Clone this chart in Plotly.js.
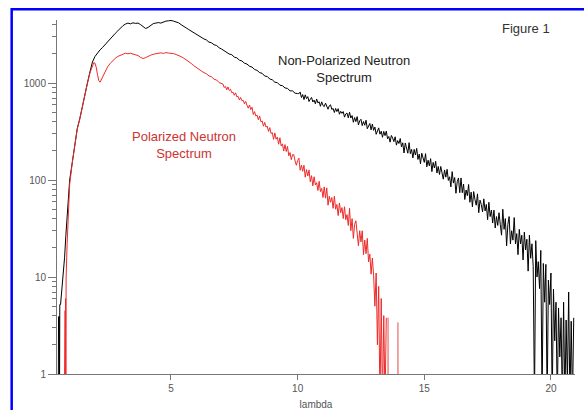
<!DOCTYPE html>
<html>
<head>
<meta charset="utf-8">
<script src="https://cdn.plot.ly/plotly-3.0.1.min.js"></script>
<style>html,body{margin:0;padding:0;background:#fff;}#chart{width:584px;height:410px;}</style>
</head>
<body>
<div id="chart"></div>
<script>
// Non-polarized neutron spectrum (black)
var blackLambda = [0.55,0.56,0.59,0.6,0.61,0.64,0.66,0.7,0.75,0.8,0.85,0.9,0.95,
1.0,1.1,1.2,1.3,1.4,1.5,1.6,1.7,1.8,1.9,
2.0,2.1,2.2,2.3,2.4,2.5,2.6,2.7,2.8,2.9,
3.0,3.1,3.2,3.3,3.4,3.5,3.6,3.7,3.8,3.9,
4.0,4.1,4.2,4.3,4.4,4.5,4.6,4.7,4.8,4.9,
5.0,5.1,5.2,5.3,5.4,5.5,5.6,5.7,5.8,5.9,
6.0,6.1,6.2,6.3,6.4,6.5,6.6,6.7,6.8,6.9,
7.0,7.1,7.2,7.3,7.4,7.5,7.6,7.7,7.8,7.9,
8.0,8.1,8.2,8.3,8.4,8.5,8.6,8.7,8.8,8.9,
9.0,9.1,9.2,9.3,9.4,9.5,9.6,9.7,9.8,9.9,
10.0,10.05,10.1,10.15,10.2,10.25,10.3,10.35,10.4,10.45,10.5,10.55,10.6,10.65,10.7,10.75,10.8,10.85,10.9,10.95,
11.0,11.05,11.1,11.15,11.2,11.25,11.3,11.35,11.4,11.45,11.5,11.55,11.6,11.65,11.7,11.75,11.8,11.85,11.9,11.95,
12.0,12.05,12.1,12.15,12.2,12.25,12.3,12.35,12.4,12.45,12.5,12.55,12.6,12.65,12.7,12.75,12.8,12.85,12.9,12.95,
13.0,13.05,13.1,13.15,13.2,13.25,13.3,13.35,13.4,13.45,13.5,13.55,13.6,13.65,13.7,13.75,13.8,13.85,13.9,13.95,
14.0,14.05,14.1,14.15,14.2,14.25,14.3,14.35,14.4,14.45,14.5,14.55,14.6,14.65,14.7,14.75,14.8,14.85,14.9,14.95,
15.0,15.05,15.1,15.15,15.2,15.25,15.3,15.35,15.4,15.45,15.5,15.55,15.6,15.65,15.7,15.75,15.8,15.85,15.9,15.95,
16.0,16.05,16.1,16.15,16.2,16.25,16.3,16.35,16.4,16.45,16.5,16.55,16.6,16.65,16.7,16.75,16.8,16.85,16.9,16.95,
17.0,17.05,17.1,17.15,17.2,17.25,17.3,17.35,17.4,17.45,17.5,17.55,17.6,17.65,17.7,17.75,17.8,17.85,17.9,17.95,
18.0,18.05,18.1,18.15,18.2,18.25,18.3,18.35,18.4,18.45,18.5,18.55,18.6,18.65,18.7,18.75,18.8,18.85,18.9,18.95,
19.0,19.05,19.1,19.15,19.2,19.25,19.3,19.35,19.4,19.45,19.5,19.55,19.6,19.65,19.7,19.75,19.8,19.85,19.9,19.95,
20.0,20.05,20.1,20.15,20.2,20.25,20.3,20.35,20.4,20.45,20.5,20.55,20.6,20.65,20.7,20.75,20.8,20.85,20.9];
var blackCounts = [0.5,3.9,3.9,0.5,5.2,5.2,6,7,10,16,27,43,68,
100,150,230,340,430,580,780,1000,1300,1650,
1880,2050,2200,2330,2500,2680,2850,3050,3250,3450,
3700,3900,4050,4150,4080,4180,4120,4150,4000,3850,
3650,3750,3950,4100,4150,4200,4150,4280,4350,4380,
4420,4350,4250,4180,4000,3880,3700,3560,3420,3280,
3150,3030,2960,2850,2780,2640,2600,2480,2440,2310,
2240,2150,2090,1990,1960,1850,1820,1720,1690,1600,
1570,1490,1460,1380,1350,1280,1260,1180,1170,1100,
1080,1020,1010,950,940,890,880,830,830,785,
780,
776,808,709,760,675,755,691,724,645,681,
711,638,667,611,685,623,641,576,640,587,
571,620,583,537,583,596,533,548,497,547,
508,544,477,511,487,508,445,480,490,438,
500,436,462,394,441,400,451,369,408,423,
364,401,367,414,338,369,383,329,378,325,
352,296,330,345,297,318,276,317,287,319,
266,281,246,288,272,249,279,229,255,238,
268,220,242,190,241,218,189,243,187,207,
169,207,181,212,163,185,147,189,166,152,
187,137,160,140,166,122,152,133,156,118,
138,114,138,122,102,127,107,129,99,108,
85,122,93,106,73,96,105,74,105,74,
91,63,79,69,90,59,75,53,76,63,
55,72,46,62,56,47,64,48,56,39,
59,42,49,36,49,32,42,34,46,35,
27,50,31,40,21,35,42,22,30,24,
41,22,28,17,31,22,27,15,29,19,
24.5,11.5,27,15.6,22,12.8,0.5,23.7,10,14.4,
7.6,18.8,0.5,13.8,5.5,13.5,0.5,9.3,5.2,11,
0.5,7.5,2.2,5.5,0.5,4.8,1.5,3.8,0.5,5.5,0.5,3.6,0.8,7,0.5,3.5,0.5,3.8];

// Polarized neutron spectrum (red)
var redLambda = [0.79,0.8,0.81,0.82,0.83,0.84,0.85,0.86,0.9,0.95,
1.0,1.1,1.2,1.3,1.4,1.5,1.6,1.7,1.8,1.9,
1.95,2.0,2.05,2.1,2.15,2.2,2.25,
2.3,2.4,2.5,2.6,2.7,2.8,2.9,
3.0,3.1,3.2,3.3,3.4,3.5,3.6,3.7,3.8,3.9,
4.0,4.1,4.2,4.3,4.4,4.5,4.6,4.7,4.8,4.9,
5.0,5.1,5.2,5.3,5.4,5.5,5.6,5.7,5.8,5.9,
6.0,6.1,6.2,6.3,6.4,6.5,6.6,6.7,6.8,6.9,
7.0,7.05,7.1,7.15,7.2,7.25,7.3,7.35,7.4,7.45,7.5,7.55,7.6,7.65,7.7,7.75,7.8,7.85,7.9,7.95,
8.0,8.05,8.1,8.15,8.2,8.25,8.3,8.35,8.4,8.45,8.5,8.55,8.6,8.65,8.7,8.75,8.8,8.85,8.9,8.95,
9.0,9.05,9.1,9.15,9.2,9.25,9.3,9.35,9.4,9.45,9.5,9.55,9.6,9.65,9.7,9.75,9.8,9.85,9.9,9.95,
10.0,10.05,10.1,10.15,10.2,10.25,10.3,10.35,10.4,10.45,10.5,10.55,10.6,10.65,10.7,10.75,10.8,10.85,10.9,10.95,
11.0,11.05,11.1,11.15,11.2,11.25,11.3,11.35,11.4,11.45,11.5,11.55,11.6,11.65,11.7,11.75,11.8,11.85,11.9,11.95,
12.0,12.05,12.1,12.15,12.2,12.25,12.3,12.35,12.4,12.45,12.5,12.55,12.6,12.65,12.7,12.75,12.8,12.85,12.9,12.95,
13.0,13.05,13.1,13.15,13.2,13.25,13.3,13.35,13.4,13.45,13.5];
var redCounts = [0.5,3,0.5,4.5,0.6,6,1,10,22,50,
90,148,228,335,425,575,770,990,1270,1520,
1620,1600,1450,1220,1060,1020,1080,
1180,1330,1470,1590,1700,1800,1880,
1940,1990,2030,2000,2030,1990,1960,1920,1840,1790,
1830,1900,1940,1980,2000,2030,2050,2020,2060,2040,
2030,2010,1970,1930,1870,1810,1740,1660,1590,1510,
1440,1380,1330,1280,1245,1185,1160,1095,1075,1010,
990,
977,899,925,851,912,839,864,794,805,748,
793,721,729,669,710,658,665,611,647,589,
551,594,532,563,473,507,457,467,418,458,
398,406,359,393,352,359,317,347,302,308,
263,306,264,277,234,273,225,236,199,232,
197,222,178,192,162,183,182,157,142,159,
168,126,142,123,142,107,128,110,127,96,
111,87,108,89,94,78,97,76,82,66,
85,65,83,55,68,59,66,51,68,50,
56,43,58,46,52,40,53,39,44,34,
51,30,40,25,35,38,25,21,30,23,
30,17,24,17.4,25,14.3,17.2,10.7,15.7,10.3,
5,11,2,8,0.5,6,0.5,4,0.5,3.8];
// faint isolated channels beyond the red cutoff
var redSpikeLambda = [13.55,13.57,13.59,13.94,13.96,13.98];
var redSpikeCounts = [0.5,3.8,0.5,0.5,3.4,0.5];

var yTickVals = [1,10,100,1000];
var yTickText = ['1','10','100','1000'];
var yMinorVals = [2,3,4,5,6,7,8,9,20,30,40,50,60,70,80,90,200,300,400,500,600,700,800,900,2000,3000,4000];
var xTickVals = [5,10,15,20];
var xTickText = ['5','10','15','20'];

var traces = [
  {x: blackLambda, y: blackCounts, type:'scatter', mode:'lines', line:{color:'#000000', width:1}, hoverinfo:'skip'},
  {x: redSpikeLambda, y: redSpikeCounts, type:'scatter', mode:'lines', line:{color:'rgba(225,70,70,0.55)', width:1}, hoverinfo:'skip'},
  {x: redLambda, y: redCounts, type:'scatter', mode:'lines', line:{color:'#ee2a2a', width:1}, hoverinfo:'skip'}
];

var axisGrey = '#777777';
var layout = {
  width:584, height:410,
  margin:{l:57, r:9, t:20, b:36, pad:0},
  paper_bgcolor:'#ffffff', plot_bgcolor:'#ffffff',
  showlegend:false,
  font:{family:'"Liberation Sans", Arial, sans-serif', size:10, color:'#555555'},
  xaxis:{
    range:[0.5,20.95], tickmode:'array', tickvals:xTickVals, ticktext:xTickText,
    ticks:'outside', ticklen:5, tickwidth:1, tickcolor:axisGrey,
    showline:true, linecolor:axisGrey, linewidth:1,
    showgrid:false, zeroline:false,
    tickfont:{size:10, color:'#555555'},
    title:{text:'lambda', font:{size:10, color:'#555555'}, standoff:8}
  },
  yaxis:{
    type:'log', range:[0,3.65], tickmode:'array', tickvals:yTickVals, ticktext:yTickText,
    ticks:'outside', ticklen:8, tickwidth:1, tickcolor:axisGrey,
    showline:true, linecolor:axisGrey, linewidth:1,
    showgrid:false, zeroline:false,
    tickfont:{size:10, color:'#555555'},
    minor:{tickmode:'array', tickvals:yMinorVals, ticks:'outside', ticklen:4, tickwidth:1, tickcolor:axisGrey, showgrid:false}
  },
  annotations:[
    {xref:'paper', yref:'paper', x:0.9054, y:0.9746, text:'Figure 1', showarrow:false, xanchor:'center', yanchor:'middle', font:{size:13, color:'#333333'}},
    {xref:'paper', yref:'paper', x:0.554, y:0.8605, text:'Non-Polarized Neutron<br>Spectrum', showarrow:false, xanchor:'center', yanchor:'middle', align:'center', font:{size:13, color:'#222222'}},
    {xref:'paper', yref:'paper', x:0.245, y:0.647, text:'Polarized Neutron<br>Spectrum', showarrow:false, xanchor:'center', yanchor:'middle', align:'center', font:{size:13, color:'#cc3333'}}
  ],
  shapes:[
    {type:'rect', xref:'paper', yref:'paper', x0:-0.0875, x1:1.3, y0:-0.3, y1:1.0302, line:{color:'#0000ff', width:2.5}, fillcolor:'rgba(0,0,0,0)', layer:'above'}
  ]
};

Plotly.newPlot('chart', traces, layout, {displayModeBar:false, staticPlot:true});
</script>
</body>
</html>
